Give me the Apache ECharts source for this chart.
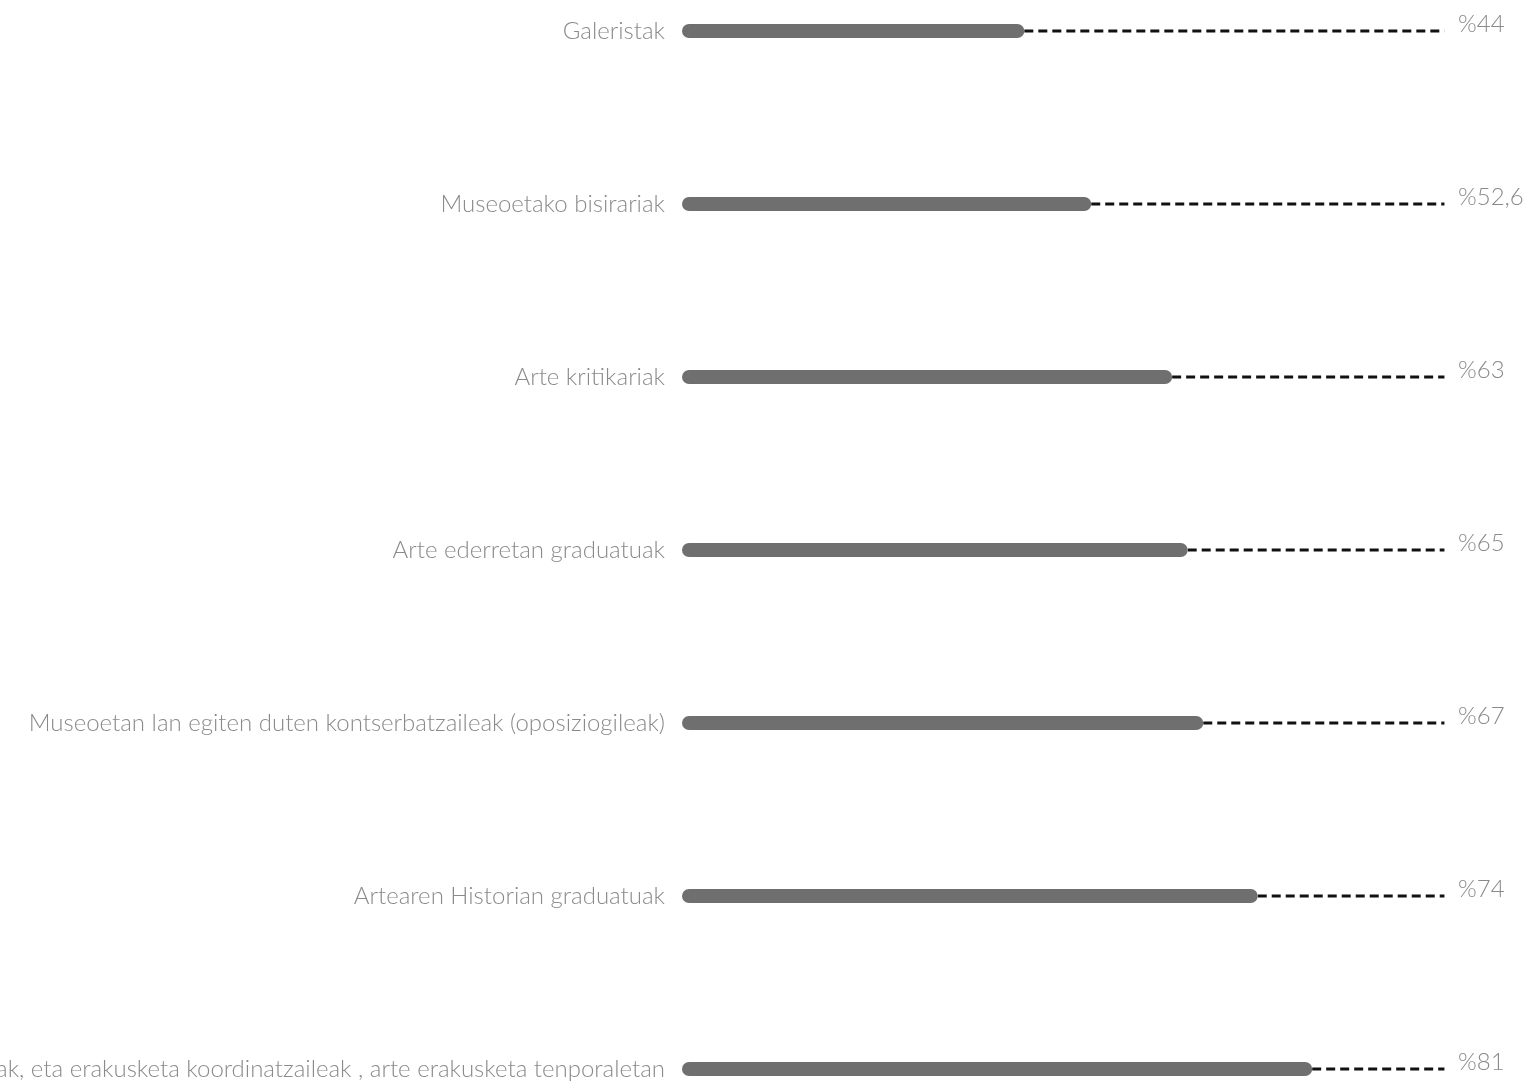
<!DOCTYPE html>
<html>
<head>
<meta charset="utf-8">
<script src="https://cdn.jsdelivr.net/npm/echarts@6/dist/echarts.min.js"></script>
<style>
html,body{margin:0;padding:0;background:#fff;}
#chart{width:1532px;height:1083px;}
</style>
</head>
<body>
<div id="chart"></div>
<script>
const categories = [
  'Galeristak',
  'Museoetako bisirariak',
  'Arte kritikariak',
  'Arte ederretan graduatuak',
  'Museoetan lan egiten duten kontserbatzaileak (oposiziogileak)',
  'Artearen Historian graduatuak',
  'Komisarioak, eta erakusketa koordinatzaileak , arte erakusketa tenporaletan'
];
const values = [44, 52.6, 63, 65, 67, 74, 81];
const valueLabels = ['%44', '%52,6', '%63', '%65', '%67', '%74', '%81'];
const axisMax = 100;
const lineEnd = 98;

const FONT = "'Helvetica Neue', 'Lato', 'Liberation Sans', sans-serif";
const GREY = '#8a8a8a';

const chart = echarts.init(document.getElementById('chart'), null, {renderer: 'canvas'});
chart.setOption({
  backgroundColor: '#ffffff',
  animation: false,
  grid: {left: 682, right: 72, top: 31, bottom: 14, containLabel: false, outerBoundsMode: 'none'},
  xAxis: {
    type: 'value', min: 0, max: axisMax,
    show: false
  },
  yAxis: {
    type: 'category',
    data: categories,
    inverse: true,
    boundaryGap: false,
    axisLine: {show: false},
    axisTick: {show: false},
    splitLine: {show: false},
    axisLabel: {
      margin: 17,
      color: GREY,
      fontFamily: FONT,
      fontWeight: 300,
      fontSize: 24
    }
  },
  series: [
    {
      type: 'custom',
      data: values.map((v, i) => [v, i]),
      renderItem: function (params, api) {
        const v = api.value(0);
        const idx = api.value(1);
        const p0 = api.coord([v, idx]);
        const p1 = api.coord([lineEnd, idx]);
        const p2 = api.coord([axisMax, idx]);
        return {
          type: 'group',
          children: [
            {
              type: 'line',
              shape: {x1: p0[0], y1: p0[1], x2: p1[0], y2: p1[1]},
              style: {stroke: '#111', lineWidth: 3, lineDash: [9, 5]}
            },
            {
              type: 'text',
              x: p2[0] - 2,
              y: p2[1] - 7,
              style: {
                text: valueLabels[idx],
                fill: GREY,
                fontFamily: FONT,
                fontWeight: 300,
                fontSize: 24,
                align: 'left',
                verticalAlign: 'middle'
              }
            }
          ]
        };
      },
      z: 1
    },
    {
      type: 'bar',
      data: values,
      barWidth: 14,
      itemStyle: {color: '#6f6f6f', borderRadius: 7},
      z: 3
    }
  ]
});
</script>
</body>
</html>
